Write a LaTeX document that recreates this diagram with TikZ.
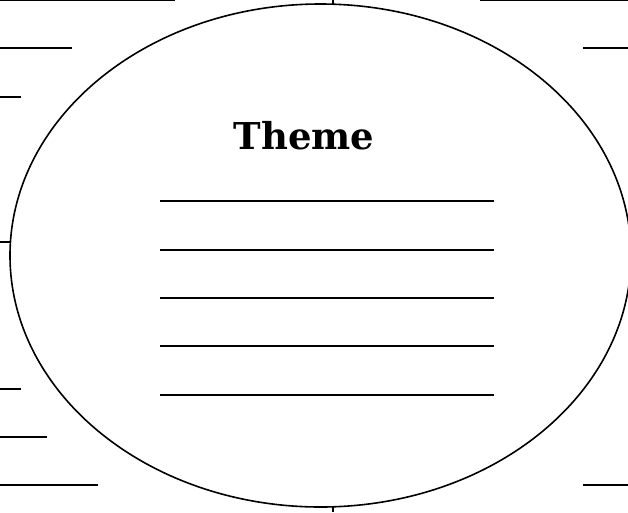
\documentclass[tikz,border=0pt]{standalone}
\usepackage{fontspec}
\newfontfamily\themefont{DejaVu Serif}
\usetikzlibrary{shapes.geometric}
\begin{document}
\begin{tikzpicture}[x=1pt,y=-1pt,
  blank/.style={line width=2.4pt},
  tick/.style={line width=1.6pt},
  oval/.style={draw, ellipse, line width=1.6pt, inner sep=0pt, minimum width=621pt, minimum height=503pt}]
\useasboundingbox (0,0) rectangle (628,512);
\node[oval] (ell) at (320.5,255.5) {};
\node[anchor=base, inner sep=0pt, font=\themefont\bfseries\fontsize{37}{40}\selectfont] (theme) at (304,149) {Theme};
% centre writing lines
\foreach \yy [count=\i] in {201,250,298,346,395} {
  \coordinate (cl\i) at (160,\yy);
  \coordinate (cr\i) at (494,\yy);
  \draw[blank] (cl\i) -- (cr\i);
}
% left side lines
\foreach \yy/\xx [count=\i] in {0/175, 48/72, 97/21, 389/21, 437/47, 485/98} {
  \coordinate (la\i) at (0,\yy);
  \coordinate (lb\i) at (\xx,\yy);
  \draw[blank] (la\i) -- (lb\i);
}
% right side lines
\foreach \yy/\xx [count=\i] in {0/480, 48/583, 485/583} {
  \coordinate (ra\i) at (\xx,\yy);
  \coordinate (rb\i) at (628,\yy);
  \draw[blank] (ra\i) -- (rb\i);
}
% ticks
\coordinate (tl) at (0,242);
\coordinate (tlE) at (10.3,242);
\draw[tick] (tl) -- (tlE);
\coordinate (tt) at (333,0);
\coordinate (ttE) at (333,4.3);
\draw[tick] (tt) -- (ttE);
\coordinate (tb) at (333,512);
\coordinate (tbE) at (333,506.7);
\draw[tick] (tbE) -- (tb);
\end{tikzpicture}
\end{document}
